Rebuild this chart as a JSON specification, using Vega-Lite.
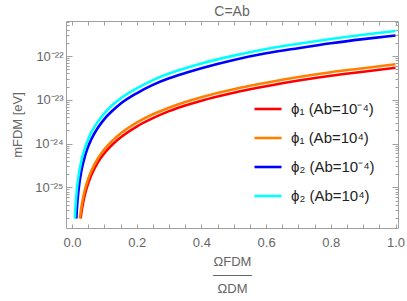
{
  "$schema": "https://vega.github.io/schema/vega-lite/v6.json",
  "width": 332,
  "height": 207,
  "autosize": {"type": "none"},
  "padding": {"left": 66, "top": 21, "right": 9, "bottom": 73},
  "title": {"text": "C=Ab", "fontSize": 14, "font": "Liberation Sans", "fontWeight": "normal", "color": "#666666", "offset": -3},
  "config": {
    "view": {"stroke": null},
    "axis": {"grid": false, "domainColor": "#a0a0a0", "tickColor": "#a0a0a0", "labelColor": "#666666", "labelFont": "Liberation Sans", "labelFontSize": 13, "titleFont": "Liberation Sans", "titleFontSize": 13, "titleFontWeight": "normal", "titleColor": "#666666", "labelOverlap": false}
  },
  "data": {"values": [
    {"s": "phi1_lo", "x": 0.0267, "m": 1.95e-26},
    {"s": "phi1_lo", "x": 0.03, "m": 2.95e-26},
    {"s": "phi1_lo", "x": 0.035, "m": 4.68e-26},
    {"s": "phi1_lo", "x": 0.04, "m": 6.92e-26},
    {"s": "phi1_lo", "x": 0.05, "m": 1.23e-25},
    {"s": "phi1_lo", "x": 0.06, "m": 1.91e-25},
    {"s": "phi1_lo", "x": 0.08, "m": 3.72e-25},
    {"s": "phi1_lo", "x": 0.1, "m": 6.03e-25},
    {"s": "phi1_lo", "x": 0.125, "m": 9.55e-25},
    {"s": "phi1_lo", "x": 0.15, "m": 1.38e-24},
    {"s": "phi1_lo", "x": 0.2, "m": 2.45e-24},
    {"s": "phi1_lo", "x": 0.25, "m": 3.80e-24},
    {"s": "phi1_lo", "x": 0.3, "m": 5.50e-24},
    {"s": "phi1_lo", "x": 0.35, "m": 7.41e-24},
    {"s": "phi1_lo", "x": 0.4, "m": 9.55e-24},
    {"s": "phi1_lo", "x": 0.5, "m": 1.45e-23},
    {"s": "phi1_lo", "x": 0.6, "m": 2.04e-23},
    {"s": "phi1_lo", "x": 0.7, "m": 2.75e-23},
    {"s": "phi1_lo", "x": 0.8, "m": 3.55e-23},
    {"s": "phi1_lo", "x": 0.9, "m": 4.37e-23},
    {"s": "phi1_lo", "x": 1.0, "m": 5.37e-23},
    {"s": "phi1_hi", "x": 0.0244, "m": 1.95e-26},
    {"s": "phi1_hi", "x": 0.03, "m": 3.89e-26},
    {"s": "phi1_hi", "x": 0.035, "m": 6.17e-26},
    {"s": "phi1_hi", "x": 0.04, "m": 8.91e-26},
    {"s": "phi1_hi", "x": 0.05, "m": 1.55e-25},
    {"s": "phi1_hi", "x": 0.06, "m": 2.40e-25},
    {"s": "phi1_hi", "x": 0.08, "m": 4.57e-25},
    {"s": "phi1_hi", "x": 0.1, "m": 7.41e-25},
    {"s": "phi1_hi", "x": 0.125, "m": 1.17e-24},
    {"s": "phi1_hi", "x": 0.15, "m": 1.70e-24},
    {"s": "phi1_hi", "x": 0.2, "m": 3.02e-24},
    {"s": "phi1_hi", "x": 0.25, "m": 4.68e-24},
    {"s": "phi1_hi", "x": 0.3, "m": 6.61e-24},
    {"s": "phi1_hi", "x": 0.35, "m": 8.91e-24},
    {"s": "phi1_hi", "x": 0.4, "m": 1.15e-23},
    {"s": "phi1_hi", "x": 0.5, "m": 1.74e-23},
    {"s": "phi1_hi", "x": 0.6, "m": 2.45e-23},
    {"s": "phi1_hi", "x": 0.7, "m": 3.31e-23},
    {"s": "phi1_hi", "x": 0.8, "m": 4.27e-23},
    {"s": "phi1_hi", "x": 0.9, "m": 5.25e-23},
    {"s": "phi1_hi", "x": 1.0, "m": 6.46e-23},
    {"s": "phi2_lo", "x": 0.0135, "m": 1.95e-26},
    {"s": "phi2_lo", "x": 0.015, "m": 3.09e-26},
    {"s": "phi2_lo", "x": 0.02, "m": 8.32e-26},
    {"s": "phi2_lo", "x": 0.03, "m": 2.57e-25},
    {"s": "phi2_lo", "x": 0.04, "m": 5.13e-25},
    {"s": "phi2_lo", "x": 0.05, "m": 8.51e-25},
    {"s": "phi2_lo", "x": 0.06, "m": 1.26e-24},
    {"s": "phi2_lo", "x": 0.08, "m": 2.29e-24},
    {"s": "phi2_lo", "x": 0.1, "m": 3.63e-24},
    {"s": "phi2_lo", "x": 0.125, "m": 5.62e-24},
    {"s": "phi2_lo", "x": 0.15, "m": 8.13e-24},
    {"s": "phi2_lo", "x": 0.2, "m": 1.41e-23},
    {"s": "phi2_lo", "x": 0.25, "m": 2.19e-23},
    {"s": "phi2_lo", "x": 0.3, "m": 3.09e-23},
    {"s": "phi2_lo", "x": 0.35, "m": 4.07e-23},
    {"s": "phi2_lo", "x": 0.4, "m": 5.25e-23},
    {"s": "phi2_lo", "x": 0.5, "m": 8.13e-23},
    {"s": "phi2_lo", "x": 0.6, "m": 1.15e-22},
    {"s": "phi2_lo", "x": 0.7, "m": 1.51e-22},
    {"s": "phi2_lo", "x": 0.8, "m": 1.95e-22},
    {"s": "phi2_lo", "x": 0.9, "m": 2.43e-22},
    {"s": "phi2_lo", "x": 1.0, "m": 2.95e-22},
    {"s": "phi2_hi", "x": 0.0088, "m": 1.95e-26},
    {"s": "phi2_hi", "x": 0.01, "m": 2.88e-26},
    {"s": "phi2_hi", "x": 0.015, "m": 8.91e-26},
    {"s": "phi2_hi", "x": 0.02, "m": 1.78e-25},
    {"s": "phi2_hi", "x": 0.03, "m": 4.37e-25},
    {"s": "phi2_hi", "x": 0.04, "m": 7.94e-25},
    {"s": "phi2_hi", "x": 0.05, "m": 1.26e-24},
    {"s": "phi2_hi", "x": 0.06, "m": 1.82e-24},
    {"s": "phi2_hi", "x": 0.08, "m": 3.16e-24},
    {"s": "phi2_hi", "x": 0.1, "m": 4.90e-24},
    {"s": "phi2_hi", "x": 0.125, "m": 7.59e-24},
    {"s": "phi2_hi", "x": 0.15, "m": 1.07e-23},
    {"s": "phi2_hi", "x": 0.2, "m": 1.82e-23},
    {"s": "phi2_hi", "x": 0.25, "m": 2.82e-23},
    {"s": "phi2_hi", "x": 0.3, "m": 3.98e-23},
    {"s": "phi2_hi", "x": 0.35, "m": 5.25e-23},
    {"s": "phi2_hi", "x": 0.4, "m": 6.76e-23},
    {"s": "phi2_hi", "x": 0.5, "m": 1.02e-22},
    {"s": "phi2_hi", "x": 0.6, "m": 1.45e-22},
    {"s": "phi2_hi", "x": 0.7, "m": 1.91e-22},
    {"s": "phi2_hi", "x": 0.8, "m": 2.45e-22},
    {"s": "phi2_hi", "x": 0.9, "m": 3.05e-22},
    {"s": "phi2_hi", "x": 1.0, "m": 3.72e-22}
  ]},
  "layer": [
    {
      "mark": {"type": "line", "strokeWidth": 2.6, "interpolate": "monotone", "clip": true},
      "encoding": {
        "x": {"field": "x", "type": "quantitative",
          "scale": {"domain": [-0.0185, 1.0077], "nice": false, "zero": false},
          "axis": {"orient": "bottom",
            "values": [0, 0.05, 0.1, 0.15, 0.2, 0.25, 0.3, 0.35, 0.4, 0.45, 0.5, 0.55, 0.6, 0.65, 0.7, 0.75, 0.8, 0.85, 0.9, 0.95, 1.0],
            "labelExpr": "abs(datum.value*5 - round(datum.value*5)) < 0.001 ? format(datum.value, '.1f') : ''",
            "tickSize": -4,
            "labelPadding": 12,
            "title": ["ΩFDM", "———", "ΩDM"],
            "titleLineHeight": 13.5,
            "titlePadding": 6}},
        "y": {"field": "m", "type": "quantitative",
          "scale": {"type": "log", "domain": [1.18e-26, 6.3e-22], "nice": false},
          "axis": {"orient": "left",
            "values": [2e-26, 3e-26, 4e-26, 5e-26, 6e-26, 7e-26, 8e-26, 9e-26, 1e-25, 2e-25, 3e-25, 4e-25, 5e-25, 6e-25, 7e-25, 8e-25, 9e-25, 1e-24, 2e-24, 3e-24, 4e-24, 5e-24, 6e-24, 7e-24, 8e-24, 9e-24, 1e-23, 2e-23, 3e-23, 4e-23, 5e-23, 6e-23, 7e-23, 8e-23, 9e-23, 1e-22, 2e-22, 3e-22, 4e-22, 5e-22, 6e-22],
            "labelExpr": "abs(log(datum.value)/LN10 - round(log(datum.value)/LN10)) > 0.01 ? '' : round(log(datum.value)/LN10) == -22 ? '10⁻²²' : round(log(datum.value)/LN10) == -23 ? '10⁻²³' : round(log(datum.value)/LN10) == -24 ? '10⁻²⁴' : '10⁻²⁵'",
            "tickSize": {"condition": {"test": "abs(log(datum.value)/LN10 - round(log(datum.value)/LN10)) < 0.01", "value": -6}, "value": -3},
            "labelPadding": 9,
            "title": "mFDM [eV]",
            "titlePadding": 10}},
        "color": {"field": "s", "type": "nominal",
          "scale": {"domain": ["phi1_lo", "phi1_hi", "phi2_lo", "phi2_hi"], "range": ["#ff0000", "#ff8000", "#0000ff", "#00ffff"]},
          "legend": {"orient": "none", "legendX": 187, "legendY": 73, "title": null,
            "symbolType": "stroke", "symbolSize": 729, "symbolStrokeWidth": 2.6,
            "labelFont": "Liberation Sans", "labelFontSize": 15, "labelColor": "#222222",
            "rowPadding": 6, "labelOffset": 8,
            "labelExpr": "datum.label == 'phi1_lo' ? 'ϕ₁ (Ab=10⁻⁴)' : datum.label == 'phi1_hi' ? 'ϕ₁ (Ab=10⁴)' : datum.label == 'phi2_lo' ? 'ϕ₂ (Ab=10⁻⁴)' : 'ϕ₂ (Ab=10⁴)'"}}
      }
    },
    {
      "mark": {"type": "point", "opacity": 0},
      "encoding": {
        "x": {"field": "x", "type": "quantitative",
          "axis": {"orient": "top",
            "values": [0, 0.05, 0.1, 0.15, 0.2, 0.25, 0.3, 0.35, 0.4, 0.45, 0.5, 0.55, 0.6, 0.65, 0.7, 0.75, 0.8, 0.85, 0.9, 0.95, 1.0],
            "labels": false, "title": null,
            "tickSize": -4}},
        "y": {"field": "m", "type": "quantitative",
          "axis": {"orient": "right",
            "values": [2e-26, 3e-26, 4e-26, 5e-26, 6e-26, 7e-26, 8e-26, 9e-26, 1e-25, 2e-25, 3e-25, 4e-25, 5e-25, 6e-25, 7e-25, 8e-25, 9e-25, 1e-24, 2e-24, 3e-24, 4e-24, 5e-24, 6e-24, 7e-24, 8e-24, 9e-24, 1e-23, 2e-23, 3e-23, 4e-23, 5e-23, 6e-23, 7e-23, 8e-23, 9e-23, 1e-22, 2e-22, 3e-22, 4e-22, 5e-22, 6e-22],
            "labels": false, "title": null,
            "tickSize": {"condition": {"test": "abs(log(datum.value)/LN10 - round(log(datum.value)/LN10)) < 0.01", "value": -6}, "value": -3}}}
      }
    }
  ],
  "resolve": {"axis": {"x": "independent", "y": "independent"}}
}
